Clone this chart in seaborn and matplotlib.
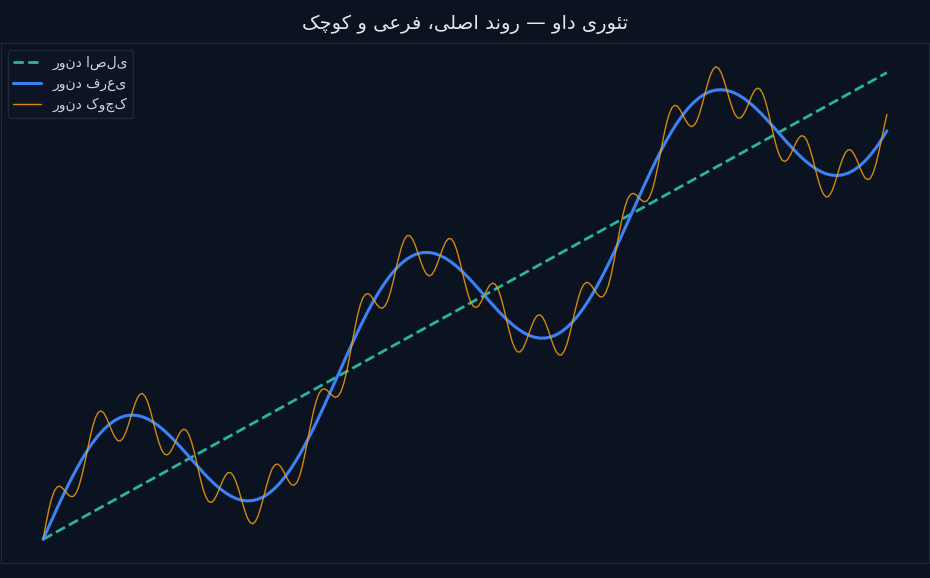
import numpy as np
import matplotlib
matplotlib.use("Agg")
import matplotlib.pyplot as plt
import seaborn as sns

# title, already shaped (Arabic presentation forms, visual order)
# logical text: "تئوری داو — روند اصلی، فرعی و کوچک"
title = ("\ufb8f\ufb7c\ufeee\ufb90 \ufeed \ufbfd\ufecb\ufeae\ufed3 \u060c\ufbfd\ufee0\ufebb\ufe8d "
         "\ufeaa\ufee7\ufeed\ufead \u2014 \ufeed\ufe8d\ufea9 \ufbfc\ufead\ufeee\ufe8c\ufe97")

labels = ["روند اصلی", "روند فرعی", "روند کوچک"]

# primary trend: straight line, start and end
major_x = [0, 306]
major = [0.0, 100.0]

# secondary trend (every 2nd step)
secondary = [
    0.00, 2.65, 5.28, 7.85, 10.33, 12.71, 14.96, 17.06, 18.98, 20.72,
    22.24, 23.55, 24.63, 25.48, 26.10, 26.48, 26.63, 26.55, 26.26, 25.77,
    25.09, 24.25, 23.26, 22.15, 20.94, 19.66, 18.33, 16.98, 15.64, 14.34,
    13.10, 11.95, 10.92, 10.03, 9.30, 8.74, 8.38, 8.23, 8.31, 8.61,
    9.14, 9.92, 10.92, 12.16, 13.61, 15.28, 17.14, 19.18, 21.38, 23.72,
    26.17, 28.72, 31.33, 33.97, 36.63, 39.27, 41.85, 44.37, 46.79, 49.09,
    51.24, 53.22, 55.02, 56.61, 58.00, 59.16, 60.09, 60.78, 61.24, 61.46,
    61.46, 61.24, 60.81, 60.20, 59.41, 58.47, 57.39, 56.21, 54.95, 53.63,
    52.29, 50.94, 49.63, 48.36, 47.18, 46.11, 45.17, 44.38, 43.76, 43.34,
    43.12, 43.12, 43.34, 43.80, 44.49, 45.42, 46.58, 47.96, 49.56, 51.36,
    53.34, 55.49, 57.78, 60.20, 62.72, 65.31, 67.95, 70.60, 73.25, 75.86,
    78.40, 80.86, 83.19, 85.40, 87.44, 89.30, 90.96, 92.42, 93.65, 94.66,
    95.43, 95.97, 96.27, 96.34, 96.19, 95.83, 95.28, 94.55, 93.65, 92.62,
    91.47, 90.24, 88.93, 87.60, 86.25, 84.92, 83.64, 82.43, 81.31, 80.33,
    79.48, 78.81, 78.32, 78.03, 77.95, 78.10, 78.48, 79.09, 79.94, 81.02,
    82.33, 83.86, 85.59, 87.52,
]

# minor trend
minor = [
    0.00, 3.24, 6.19, 8.59, 10.28, 11.19, 11.38, 11.00, 10.33, 9.61, 9.17, 9.22, 9.96, 11.39, 13.52, 16.11,
    18.98, 21.76, 24.26, 26.10, 27.24, 27.52, 27.09, 26.00, 24.63, 23.15, 21.94, 21.17, 21.10, 21.67, 22.94, 24.65,
    26.63, 28.50, 30.09, 31.03, 31.26, 30.64, 29.31, 27.34, 25.09, 22.76, 20.71, 19.14, 18.26, 18.09, 18.61, 19.64,
    20.94, 22.21, 23.20, 23.62, 23.33, 22.28, 20.52, 18.22, 15.64, 13.08, 10.80, 9.10, 8.10, 7.91, 8.41, 9.53,
    10.92, 12.39, 13.57, 14.29, 14.30, 13.64, 12.28, 10.47, 8.38, 6.40, 4.69, 3.65, 3.31, 3.84, 5.07, 6.97,
    9.14, 11.44, 13.46, 15.04, 15.92, 16.16, 15.70, 14.80, 13.61, 12.54, 11.74, 11.59, 12.14, 13.54, 15.64, 18.37,
    21.38, 24.46, 27.26, 29.57, 31.17, 32.07, 32.26, 31.94, 31.33, 30.74, 30.43, 30.68, 31.63, 33.33, 35.73, 38.65,
    41.85, 45.02, 47.91, 50.20, 51.79, 52.56, 52.63, 52.08, 51.24, 50.32, 49.68, 49.50, 50.02, 51.20, 53.07, 55.40,
    58.00, 60.49, 62.70, 64.25, 65.09, 65.06, 64.32, 62.92, 61.24, 59.44, 57.92, 56.84, 56.46, 56.73, 57.70, 59.12,
    60.81, 62.42, 63.74, 64.43, 64.41, 63.56, 62.01, 59.84, 57.39, 54.89, 52.67, 50.96, 49.95, 49.67, 50.09, 51.05,
    52.29, 53.53, 54.48, 54.91, 54.63, 53.62, 51.90, 49.68, 47.18, 44.74, 42.57, 41.02, 40.17, 40.16, 40.84, 42.16,
    43.76, 45.46, 46.88, 47.85, 48.12, 47.74, 46.66, 45.14, 43.34, 41.66, 40.26, 39.53, 39.49, 40.34, 41.88, 44.09,
    46.58, 49.18, 51.50, 53.38, 54.56, 55.08, 54.90, 54.26, 53.34, 52.51, 51.95, 52.02, 52.78, 54.37, 56.66, 59.55,
    62.72, 65.93, 68.85, 71.25, 72.95, 73.90, 74.14, 73.84, 73.25, 72.65, 72.32, 72.51, 73.40, 75.01, 77.32, 80.12,
    83.19, 86.21, 88.94, 91.04, 92.44, 92.99, 92.84, 92.04, 90.96, 89.78, 88.88, 88.42, 88.65, 89.54, 91.12, 93.14,
    95.43, 97.61, 99.51, 100.74, 101.27, 100.93, 99.88, 98.18, 96.19, 94.10, 92.29, 90.94, 90.28, 90.30, 91.01, 92.19,
    93.65, 95.05, 96.16, 96.67, 96.47, 95.48, 93.78, 91.50, 88.93, 86.36, 84.06, 82.31, 81.25, 80.97, 81.38, 82.37,
    83.64, 84.95, 85.97, 86.49, 86.31, 85.44, 83.87, 81.82, 79.48, 77.24, 75.27, 73.95, 73.32, 73.56, 74.49, 76.08,
    77.95, 79.94, 81.64, 82.91, 83.48, 83.41, 82.63, 81.43, 79.94, 78.57, 77.48, 77.06, 77.33, 78.48, 80.32, 82.82,
    85.59, 88.47, 91.06,
]

x_minor = np.arange(len(minor))
x_sec = np.arange(len(secondary)) * 2

bg = "#0b1220"
sns.set_theme(style="dark")
plt.rcParams["font.family"] = ["DejaVu Sans"]

fig = plt.figure(figsize=(9.3, 5.78), dpi=100, facecolor=bg)
ax = fig.add_axes([0.001, 0.026, 0.998, 0.8995])
ax.set_facecolor(bg)

sns.lineplot(x=major_x, y=major, ax=ax, color="#2bb3a0", linewidth=2,
             linestyle="--", label=labels[0])
sns.lineplot(x=x_sec, y=secondary, ax=ax, color="#3b82f6", linewidth=2.2,
             label=labels[1])
sns.lineplot(x=x_minor, y=minor, ax=ax, color="#f59e0b", alpha=0.85,
             linewidth=1, label=labels[2])

ax.set_xticks([])
ax.set_yticks([])
ax.set_xlabel("")
ax.set_ylabel("")
ax.grid(False)
for s in ax.spines.values():
    s.set_color("#1f2937")
    s.set_linewidth(0.8)

ax.set_title(title, color="#e5e7eb", fontsize=14, pad=10)
leg = ax.legend(loc="upper left", fontsize=10, facecolor="#0d1424",
                edgecolor="#1f2937", labelcolor="#cbd5e1", framealpha=1)

fig.savefig("out.png", dpi=100, facecolor=bg)
